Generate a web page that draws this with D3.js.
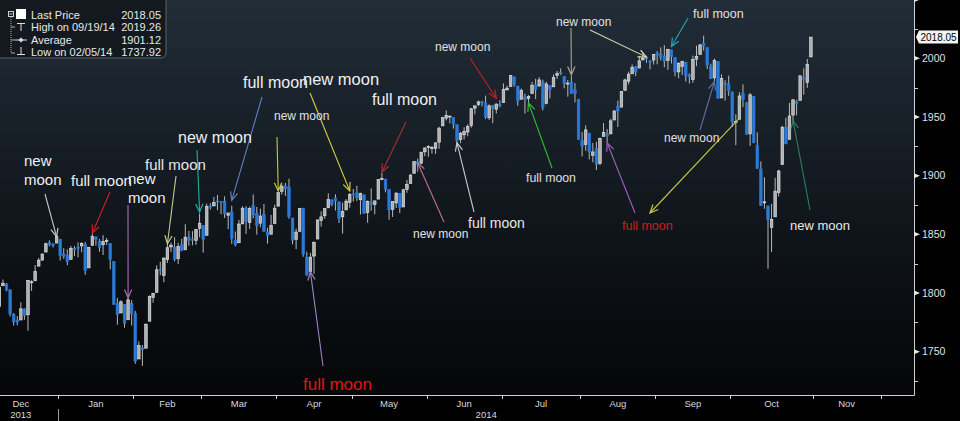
<!DOCTYPE html>
<html>
<head>
<meta charset="utf-8">
<script src="https://cdn.jsdelivr.net/npm/d3@7"></script>
<style>
body{margin:0;background:#000;}
svg{display:block;}
text{font-family:"Liberation Sans",Arial,sans-serif;}
</style>
</head>
<body>
<div id="chart"></div>
<script>
// trading days shown (Dec 2013 - Oct 2014)
var days = [
"2013-12-02","2013-12-03","2013-12-04","2013-12-05","2013-12-06","2013-12-09","2013-12-10","2013-12-11","2013-12-12","2013-12-13","2013-12-16","2013-12-17","2013-12-18","2013-12-19","2013-12-20","2013-12-23","2013-12-24","2013-12-26","2013-12-27","2013-12-30","2013-12-31",
"2014-01-02","2014-01-03","2014-01-06","2014-01-07","2014-01-08","2014-01-09","2014-01-10","2014-01-13","2014-01-14","2014-01-15","2014-01-16","2014-01-17","2014-01-21","2014-01-22","2014-01-23","2014-01-24","2014-01-27","2014-01-28","2014-01-29","2014-01-30","2014-01-31",
"2014-02-03","2014-02-04","2014-02-05","2014-02-06","2014-02-07","2014-02-10","2014-02-11","2014-02-12","2014-02-13","2014-02-14","2014-02-18","2014-02-19","2014-02-20","2014-02-21","2014-02-24","2014-02-25","2014-02-26","2014-02-27","2014-02-28",
"2014-03-03","2014-03-04","2014-03-05","2014-03-06","2014-03-07","2014-03-10","2014-03-11","2014-03-12","2014-03-13","2014-03-14","2014-03-17","2014-03-18","2014-03-19","2014-03-20","2014-03-21","2014-03-24","2014-03-25","2014-03-26","2014-03-27","2014-03-28","2014-03-31",
"2014-04-01","2014-04-02","2014-04-03","2014-04-04","2014-04-07","2014-04-08","2014-04-09","2014-04-10","2014-04-11","2014-04-14","2014-04-15","2014-04-16","2014-04-17","2014-04-21","2014-04-22","2014-04-23","2014-04-24","2014-04-25","2014-04-28","2014-04-29","2014-04-30",
"2014-05-01","2014-05-02","2014-05-05","2014-05-06","2014-05-07","2014-05-08","2014-05-09","2014-05-12","2014-05-13","2014-05-14","2014-05-15","2014-05-16","2014-05-19","2014-05-20","2014-05-21","2014-05-22","2014-05-23","2014-05-27","2014-05-28","2014-05-29","2014-05-30",
"2014-06-02","2014-06-03","2014-06-04","2014-06-05","2014-06-06","2014-06-09","2014-06-10","2014-06-11","2014-06-12","2014-06-13","2014-06-16","2014-06-17","2014-06-18","2014-06-19","2014-06-20","2014-06-23","2014-06-24","2014-06-25","2014-06-26","2014-06-27","2014-06-30",
"2014-07-01","2014-07-02","2014-07-03","2014-07-07","2014-07-08","2014-07-09","2014-07-10","2014-07-11","2014-07-14","2014-07-15","2014-07-16","2014-07-17","2014-07-18","2014-07-21","2014-07-22","2014-07-23","2014-07-24","2014-07-25","2014-07-28","2014-07-29","2014-07-30","2014-07-31",
"2014-08-01","2014-08-04","2014-08-05","2014-08-06","2014-08-07","2014-08-08","2014-08-11","2014-08-12","2014-08-13","2014-08-14","2014-08-15","2014-08-18","2014-08-19","2014-08-20","2014-08-21","2014-08-22","2014-08-25","2014-08-26","2014-08-27","2014-08-28","2014-08-29",
"2014-09-02","2014-09-03","2014-09-04","2014-09-05","2014-09-08","2014-09-09","2014-09-10","2014-09-11","2014-09-12","2014-09-15","2014-09-16","2014-09-17","2014-09-18","2014-09-19","2014-09-22","2014-09-23","2014-09-24","2014-09-25","2014-09-26","2014-09-29","2014-09-30",
"2014-10-01","2014-10-02","2014-10-03","2014-10-06","2014-10-07","2014-10-08","2014-10-09","2014-10-10","2014-10-13","2014-10-14","2014-10-15","2014-10-16","2014-10-17","2014-10-20","2014-10-21","2014-10-22","2014-10-23","2014-10-24","2014-10-27","2014-10-28","2014-10-29","2014-10-30","2014-10-31"
];

var opens = [
1806.6,1800.1,1794.2,1792.8,1788.4,1806.2,1807.6,1802.8,1781.7,1777.0,1777.0,1786.5,1781.5,1808.7,1810.4,1822.9,1828.0,1834.9,1842.9,1841.5,1842.6,
1845.9,1833.2,1832.3,1828.7,1837.9,1839.0,1840.1,1841.3,1821.4,1840.5,1847.9,1844.2,1841.1,1844.7,1842.3,1826.9,1791.0,1783.0,1790.2,1777.2,1790.9,
1782.7,1743.8,1753.4,1753.0,1776.0,1796.2,1800.5,1820.1,1814.8,1828.5,1839.3,1838.8,1829.2,1841.1,1836.8,1847.7,1845.8,1844.9,1855.1,
1857.7,1849.2,1874.1,1874.2,1878.5,1877.9,1878.3,1866.2,1869.1,1845.1,1842.8,1858.9,1872.3,1860.1,1874.5,1867.7,1859.5,1867.1,1852.1,1850.1,1859.2,
1874.0,1886.6,1891.4,1890.3,1863.9,1845.5,1852.6,1872.3,1830.7,1818.2,1831.5,1846.0,1861.7,1865.8,1872.6,1879.3,1881.0,1877.7,1865.0,1870.8,1877.1,
1884.4,1885.3,1879.5,1883.7,1868.5,1877.4,1875.3,1880.0,1896.8,1897.1,1888.2,1871.2,1876.7,1884.9,1873.3,1888.2,1893.3,1902.0,1911.8,1910.6,1920.3,
1923.9,1923.1,1923.1,1928.5,1942.4,1949.0,1950.3,1949.4,1943.4,1930.8,1934.8,1937.2,1942.7,1957.5,1960.5,1962.9,1962.0,1949.3,1959.9,1956.6,1960.8,
1962.3,1973.1,1975.9,1984.2,1976.4,1965.1,1966.7,1965.8,1969.9,1977.4,1976.4,1979.8,1961.5,1976.9,1975.7,1985.3,1988.1,1984.6,1978.3,1980.0,1973.2,1965.1,
1929.8,1926.6,1936.3,1917.3,1923.0,1910.4,1933.4,1935.7,1935.6,1947.4,1958.9,1958.4,1972.7,1980.5,1986.8,1992.6,1991.7,1998.6,2000.5,1997.4,1998.5,
2004.1,2003.6,2001.7,1998.0,2007.2,2000.7,1988.4,1992.9,1996.7,1986.0,1981.9,1999.3,2003.1,2012.7,2009.1,1992.8,1983.3,1997.3,1966.2,1979.0,1978.2,
1971.4,1945.8,1948.1,1970.0,1962.4,1935.6,1967.7,1925.6,1905.7,1877.1,1874.2,1856.0,1864.9,1885.6,1909.4,1941.3,1931.0,1951.6,1963.0,1964.1,1983.3,1979.5,2001.2
];

var highs = [
1810.0,1800.1,1799.8,1792.8,1806.0,1811.5,1808.5,1803.0,1782.9,1780.4,1792.2,1786.8,1811.1,1810.9,1823.8,1829.8,1833.3,1842.8,1844.9,1842.5,1849.4,
1846.0,1838.2,1837.2,1840.1,1840.0,1843.2,1843.2,1843.5,1839.3,1850.8,1847.9,1846.0,1849.3,1846.9,1842.3,1826.9,1795.9,1793.9,1790.2,1798.8,1793.9,
1784.8,1758.7,1755.8,1774.1,1798.0,1799.9,1823.5,1826.6,1830.3,1841.7,1842.9,1847.5,1842.8,1846.1,1858.7,1852.9,1852.7,1854.5,1867.9,
1857.7,1876.2,1876.5,1881.9,1883.6,1877.9,1882.4,1868.4,1874.4,1852.4,1862.3,1873.8,1874.1,1873.5,1884.0,1873.3,1871.9,1875.9,1855.6,1866.6,1875.2,
1885.8,1893.2,1893.8,1897.3,1864.0,1855.0,1872.4,1872.5,1835.1,1834.2,1844.0,1862.3,1869.6,1871.9,1884.9,1879.8,1884.1,1877.7,1877.0,1880.0,1885.2,
1888.6,1891.3,1885.5,1883.7,1878.8,1889.1,1878.6,1897.1,1902.2,1897.1,1888.2,1878.3,1886.0,1884.9,1888.8,1896.3,1901.3,1912.3,1914.5,1920.0,1924.0,
1925.9,1925.1,1928.6,1941.7,1949.4,1955.6,1950.9,1949.4,1943.4,1937.3,1941.2,1943.7,1957.7,1959.9,1963.9,1963.7,1968.2,1960.8,1959.9,1961.5,1964.2,
1978.6,1976.7,1985.6,1984.2,1976.4,1974.2,1969.8,1968.7,1979.9,1982.5,1983.9,1981.8,1979.9,1976.9,1986.2,1989.2,1991.4,1984.6,1981.5,1984.9,1978.9,1965.1,
1937.4,1942.9,1936.3,1927.9,1928.9,1932.4,1944.9,1939.7,1948.4,1955.2,1964.0,1972.0,1982.6,1988.6,1994.8,1993.5,2002.0,2005.0,2002.1,1998.5,2003.4,
2006.1,2009.3,2011.2,2007.7,2007.2,2001.0,1996.7,1997.7,1996.7,1987.2,2002.3,2010.7,2012.3,2019.3,2009.1,1995.4,1999.8,1997.3,1986.4,1981.3,1985.2,
1971.4,1952.3,1971.2,1977.8,1962.4,1970.4,1967.7,1936.9,1912.1,1898.7,1874.2,1876.0,1898.2,1905.0,1942.5,1949.3,1962.0,1965.3,1964.6,1985.1,1991.4,1999.4,2018.2
];

var lows = [
1798.6,1787.9,1779.1,1783.4,1788.4,1806.2,1801.4,1780.1,1772.3,1772.5,1777.0,1777.2,1767.9,1801.8,1810.4,1822.9,1828.0,1834.9,1839.8,1838.8,1842.4,
1827.7,1829.1,1823.7,1828.7,1831.4,1830.4,1834.7,1815.5,1821.4,1840.5,1840.3,1835.2,1832.4,1840.9,1820.1,1790.0,1772.9,1783.0,1770.5,1777.2,1772.3,
1739.7,1743.8,1737.9,1753.0,1776.0,1791.8,1800.5,1815.1,1809.2,1825.6,1835.0,1827.0,1824.6,1835.6,1836.8,1840.2,1840.7,1841.1,1847.5,
1834.4,1849.2,1871.1,1874.2,1870.6,1867.0,1863.9,1854.4,1841.9,1839.6,1842.8,1858.9,1850.4,1854.6,1863.5,1849.7,1856.0,1852.6,1842.1,1850.1,1859.2,
1874.0,1883.8,1882.7,1863.3,1841.5,1837.5,1852.4,1830.9,1814.4,1815.8,1816.3,1846.0,1856.7,1863.2,1872.6,1873.9,1870.2,1859.7,1850.6,1870.8,1872.7,
1878.0,1878.5,1866.8,1867.7,1859.8,1870.1,1867.0,1880.0,1896.1,1885.8,1862.4,1864.8,1872.4,1868.1,1873.3,1885.4,1893.3,1902.0,1907.3,1909.8,1916.6,
1916.0,1918.8,1918.6,1922.9,1942.4,1947.2,1944.6,1940.1,1925.8,1927.7,1930.9,1933.6,1940.9,1952.3,1959.2,1958.9,1948.3,1947.5,1944.7,1953.0,1958.2,
1962.3,1972.6,1975.9,1975.7,1959.5,1965.1,1952.9,1959.6,1969.9,1965.3,1975.7,1955.6,1960.8,1965.8,1975.7,1982.4,1985.8,1974.4,1967.3,1969.9,1962.4,1930.7,
1916.4,1921.2,1913.8,1911.4,1904.8,1909.0,1933.4,1928.3,1935.6,1947.4,1941.5,1958.4,1972.7,1977.7,1986.8,1984.8,1991.7,1998.6,1996.2,1990.5,1994.7,
1994.9,1998.2,1992.4,1990.1,1995.6,1984.6,1983.0,1985.9,1980.3,1978.5,1979.1,1993.3,2003.1,2006.6,1991.0,1982.4,1978.6,1966.0,1966.2,1964.0,1968.0,
1941.7,1926.0,1948.1,1958.4,1935.1,1925.3,1927.6,1906.1,1874.1,1871.8,1820.7,1835.0,1864.9,1882.3,1909.4,1927.1,1931.0,1946.3,1951.4,1964.1,1969.0,1974.8,2001.2
];

var closes = [
1800.9,1795.2,1792.8,1785.0,1805.1,1808.4,1802.6,1782.2,1775.5,1775.3,1786.5,1781.0,1810.7,1809.6,1818.3,1828.0,1833.3,1842.0,1841.4,1841.1,1848.4,
1832.0,1831.4,1826.8,1837.9,1837.5,1838.1,1842.4,1819.2,1838.9,1848.4,1845.9,1838.7,1843.8,1844.9,1828.5,1790.3,1781.6,1792.5,1774.2,1794.2,1782.6,
1741.9,1755.2,1751.6,1773.4,1797.0,1799.8,1819.8,1819.3,1829.8,1838.6,1840.8,1828.8,1839.8,1836.3,1847.6,1845.1,1845.2,1854.3,1859.5,
1845.7,1873.9,1873.8,1877.0,1878.0,1877.2,1867.6,1868.2,1846.3,1841.1,1858.8,1872.3,1860.8,1872.0,1866.5,1857.4,1865.6,1852.6,1849.0,1857.6,1872.3,
1885.5,1890.9,1888.8,1865.1,1845.0,1852.0,1872.2,1833.1,1815.7,1830.6,1843.0,1862.3,1864.9,1871.9,1879.6,1875.4,1878.6,1863.4,1869.4,1878.3,1884.0,
1883.7,1881.1,1884.7,1867.7,1878.2,1875.6,1878.5,1896.7,1897.5,1888.5,1870.9,1877.9,1885.1,1872.8,1888.0,1892.5,1900.5,1911.9,1909.8,1920.0,1923.6,
1925.0,1924.2,1927.9,1940.5,1949.4,1951.3,1950.8,1943.9,1930.1,1936.2,1937.8,1942.0,1957.0,1959.5,1962.9,1962.6,1950.0,1959.5,1957.2,1961.0,1960.2,
1973.3,1974.6,1985.4,1977.7,1963.7,1972.8,1964.7,1967.6,1977.1,1973.3,1981.6,1958.1,1978.2,1973.6,1983.5,1987.0,1988.0,1978.3,1978.9,1970.0,1970.1,1930.7,
1925.2,1939.0,1920.2,1920.2,1909.6,1931.6,1936.9,1933.8,1946.7,1955.2,1955.1,1971.7,1981.6,1986.5,1992.4,1988.4,1997.9,2000.0,2000.1,1996.7,2003.4,
2002.3,2000.7,1997.7,2007.7,2001.5,1988.4,1995.7,1997.5,1985.5,1984.1,1999.0,2001.6,2011.4,2010.4,1994.3,1982.8,1998.3,1966.0,1982.9,1977.8,1972.3,
1946.2,1946.2,1967.9,1964.8,1935.1,1968.9,1928.2,1906.1,1874.7,1877.7,1862.5,1862.8,1886.8,1904.0,1941.3,1927.1,1950.8,1964.6,1961.6,1985.1,1982.3,1994.7,2018.05
];

var legendRows = [
  ["Last Price", "2018.05"],
  ["High on 09/19/14", "2019.26"],
  ["Average", "1901.12"],
  ["Low on 02/05/14", "1737.92"]
];
var lastPrice = 2018.05;
var yMajor = [1750, 1800, 1850, 1900, 1950, 2000, 2050];
var yLabels = [1750, 1800, 1850, 1900, 1950, 2000];
var yMinor = [1725, 1775, 1825, 1875, 1925, 1975, 2025];
var marketHolidays = ["2014-11-27", "2014-12-25"];

// moon annotations: label text, the candle the arrow points to
var notes = [
  {text:["new","moon"], tip:["2013-12-31",1848], tail:[45,194], lx:24, ly:166, size:15, col:"#f0f0f0", arrow:"#c8c8c8"},
  {text:["full moon"], tip:["2014-01-15",1851], tail:[110,192], lx:71, ly:186, size:15, col:"#f0f0f0", arrow:"#d42020"},
  {text:["new","moon"], tip:["2014-01-30",1796], tail:[128,205], lx:128, ly:184, size:15, col:"#f0f0f0", arrow:"#a868b8"},
  {text:["full moon"], tip:["2014-02-14",1842], tail:[176,176], lx:145, ly:170, size:15, col:"#e8e8e8", arrow:"#c8c890"},
  {text:["new moon"], tip:["2014-02-28",1869], tail:[197,150], lx:178, ly:143, size:16, col:"#f0f0f0", arrow:"#22b0a0"},
  {text:["full moon"], tip:["2014-03-13",1879], tail:[262,97], lx:243, ly:88, size:16, col:"#f0f0f0", arrow:"#6080c0"},
  {text:["new moon"], tip:["2014-04-01",1887], tail:[277,137], lx:274, ly:120, size:12, col:"#e0e0e0", arrow:"#c8c840"},
  {text:["new moon"], tip:["2014-04-30",1887], tail:[310,93], lx:303, ly:85, size:16.5, col:"#f0f0f0", arrow:"#d8d040"},
  {text:["full moon"], tip:["2014-05-13",1903], tail:[406,122], lx:372, ly:105, size:16, col:"#f0f0f0", arrow:"#a83030"},
  {text:["full moon"], tip:["2014-04-14",1818], tail:[323,366], lx:303, ly:390, size:17, col:"#e01414", arrow:"#a080c8"},
  {text:["new moon"], tip:["2014-05-28",1911], tail:[444,222], lx:413, ly:238, size:12, col:"#e0e0e0", arrow:"#c07090"},
  {text:["full moon"], tip:["2014-06-12",1928], tail:[474,212], lx:468, ly:228, size:14, col:"#e8e8e8", arrow:"#c8c8c8"},
  {text:["new moon"], tip:["2014-06-27",1966], tail:[470,58], lx:435, ly:51, size:12, col:"#e0e0e0", arrow:"#c42020"},
  {text:["full moon"], tip:["2014-07-11",1962], tail:[552,168], lx:526, ly:182, size:12.3, col:"#e0e0e0", arrow:"#30c030"},
  {text:["new moon"], tip:["2014-07-29",1986], tail:[571,28], lx:556, ly:26, size:12, col:"#e0e0e0", arrow:"#a8a890"},
  {text:[], tip:["2014-08-27",2001], tail:[590,30], arrow:"#d8d8b0"},
  {text:["full moon"], tip:["2014-09-08",2010], tail:[688,18], lx:693, ly:18, size:12.5, col:"#e0e0e0", arrow:"#20a8b8"},
  {text:["new moon"], tip:["2014-09-24",1980], tail:[700,130], lx:664, ly:142, size:12, col:"#e0e0e0", arrow:"#6070a0"},
  {text:["full moon"], tip:["2014-08-12",1928], tail:[635,213], lx:622, ly:230, size:12.5, col:"#d81818", arrow:"#a060c0"},
  {text:["new moon"], tip:["2014-10-24",1947], tail:[810,210], lx:790, ly:230, size:13, col:"#e8e8e8", arrow:"#308060"}
];
// yellow arrow running from the October candles down to the red label
var octArrow = {from:["2014-10-03",1949], to:[650,213], arrow:"#c8c840"};

var W = 960, H = 421, plotR = 914, plotB = 395;
var svg = d3.select("#chart").append("svg").attr("width", W).attr("height", H);

var defs = svg.append("defs");
var grad = defs.append("linearGradient").attr("id", "bg").attr("x1", 0).attr("y1", 0).attr("x2", 0).attr("y2", 1);
grad.append("stop").attr("offset", "0%").attr("stop-color", "#222d38");
grad.append("stop").attr("offset", "55%").attr("stop-color", "#10161c");
grad.append("stop").attr("offset", "100%").attr("stop-color", "#050607");
defs.append("clipPath").attr("id", "plotclip").append("rect").attr("width", plotR).attr("height", plotB);

svg.append("rect").attr("width", W).attr("height", H).attr("fill", "#000");
svg.append("rect").attr("width", plotR).attr("height", plotB).attr("fill", "url(#bg)");

var parse = d3.timeParse("%Y-%m-%d");
var rows = days.map(function(d, i){
  return {i:i, date:parse(d), o:opens[i], h:highs[i], l:lows[i], c:closes[i]};
});
var idx = {};
days.forEach(function(d, i){ idx[d] = i; });

var x = d3.scaleLinear().domain([0, days.length - 1]).range([-14.9, 810.9]);
var y = d3.scaleLinear().domain([1750, 2000]).range([351.7, 58.3]);

// candles
var cg = svg.append("g").attr("clip-path", "url(#plotclip)");
cg.selectAll(".wick").data(rows).enter().append("line")
  .attr("class", "wick")
  .attr("x1", function(d){ return x(d.i); })
  .attr("x2", function(d){ return x(d.i); })
  .attr("y1", function(d){ return y(d.h); })
  .attr("y2", function(d){ return y(d.l); })
  .attr("stroke", "#b8b8b8")
  .attr("stroke-width", 1);
cg.selectAll(".body").data(rows).enter().append("rect")
  .attr("class", "body")
  .attr("x", function(d){ return x(d.i) - 1.3; })
  .attr("width", 2.6)
  .attr("y", function(d){ return y(Math.max(d.o, d.c)); })
  .attr("height", function(d){ return Math.max(1, Math.abs(y(d.o) - y(d.c))); })
  .attr("fill", function(d){ return d.c >= d.o ? "#b0b0b0" : "#2a7ad8"; })
  .attr("stroke", function(d){ return d.c >= d.o ? "#e8e8e8" : "#2a7ad8"; })
  .attr("stroke-width", 0.6);

// axes frame
var axisCol = "#cfcfcf";
svg.append("line").attr("x1", plotR + 0.5).attr("x2", plotR + 0.5).attr("y1", 0).attr("y2", plotB + 0.5)
  .attr("stroke", axisCol);
svg.append("line").attr("x1", 0).attr("x2", plotR + 0.5).attr("y1", plotB + 0.5).attr("y2", plotB + 0.5)
  .attr("stroke", axisCol);

// right axis
var ya = svg.append("g");
ya.selectAll(".minor").data(yMinor).enter().append("line")
  .attr("x1", plotR).attr("x2", plotR + 4)
  .attr("y1", function(d){ return Math.round(y(d)) + 0.5; })
  .attr("y2", function(d){ return Math.round(y(d)) + 0.5; })
  .attr("stroke", axisCol);
ya.selectAll(".major").data(yMajor).enter().append("path")
  .attr("d", function(d){ var v = y(d); return "M" + plotR + "," + (v - 2.5) + "L" + (plotR + 6) + "," + v + "L" + plotR + "," + (v + 2.5) + "Z"; })
  .attr("fill", "#e8e8e8");
ya.selectAll(".lab").data(yLabels).enter().append("text")
  .attr("x", plotR + 8)
  .attr("y", function(d){ return y(d) + 3.6; })
  .attr("fill", "#e0e0e0")
  .attr("font-size", 10.5)
  .text(function(d){ return d; });

// last price tag
var lp = y(lastPrice);
svg.append("path")
  .attr("d", "M" + (plotR + 2) + "," + lp + "L" + (plotR + 5) + "," + (lp - 6.5) + "L958," + (lp - 6.5) + "L958," + (lp + 6.5) + "L" + (plotR + 5) + "," + (lp + 6.5) + "Z")
  .attr("fill", "#f4f4f4");
svg.append("text").attr("x", plotR + 6.5).attr("y", lp + 3.6).attr("font-size", 10).attr("fill", "#000")
  .text(d3.format(".2f")(lastPrice));

// x axis: month boundaries from the trading days (plus November ahead)
var fmtKey = d3.timeFormat("%Y-%m");
var future = d3.timeDay.range(new Date(2014, 10, 1), new Date(2014, 11, 16)).filter(function(d){
  var w = d.getDay();
  return w !== 0 && w !== 6 && marketHolidays.indexOf(d3.timeFormat("%Y-%m-%d")(d)) < 0;
});
var allDates = rows.map(function(r){ return r.date; }).concat(future);
var months = [];
allDates.forEach(function(d, i){
  var k = fmtKey(d);
  if (!months.length || months[months.length - 1].key !== k) {
    months.push({key:k, date:d, start:i - 0.5});
  }
});
months.forEach(function(m, j){
  m.end = j < months.length - 1 ? months[j + 1].start : allDates.length + 10;
});
var xa = svg.append("g");
xa.selectAll(".mtick").data(months.slice(1)).enter().append("line")
  .attr("x1", function(m){ return Math.round(x(m.start)) + 0.5; })
  .attr("x2", function(m){ return Math.round(x(m.start)) + 0.5; })
  .attr("y1", plotB).attr("y2", plotB + 4)
  .attr("stroke", axisCol);
xa.selectAll(".mlab").data(months.filter(function(m){ return x(m.end) <= plotR; }))
  .enter().append("text")
  .attr("x", function(m){ return (x(m.start) + x(m.end)) / 2; })
  .attr("y", plotB + 12)
  .attr("text-anchor", "middle")
  .attr("fill", "#d8d8d8")
  .attr("font-size", 9.5)
  .text(function(m){ return d3.timeFormat("%b")(m.date); });

// year row
var yearStart = months[1].start;
var years = [
  {label:"2013", cx:(x(months[0].start) + x(months[0].end)) / 2},
  {label:"2014", cx:(x(yearStart) + plotR) / 2}
];
xa.append("line")
  .attr("x1", Math.round(x(yearStart)) + 0.5).attr("x2", Math.round(x(yearStart)) + 0.5)
  .attr("y1", plotB + 14).attr("y2", H)
  .attr("stroke", "#9a9a9a");
xa.selectAll(".ylab").data(years).enter().append("text")
  .attr("x", function(d){ return d.cx; })
  .attr("y", plotB + 23)
  .attr("text-anchor", "middle")
  .attr("fill", "#d8d8d8")
  .attr("font-size", 9.5)
  .text(function(d){ return d.label; });

// moon arrows and labels
function arrowHead(g, x1, y1, x2, y2, col) {
  var a = Math.atan2(y2 - y1, x2 - x1), len = 9, sp = 0.42;
  g.append("path")
    .attr("d", "M" + (x2 - len * Math.cos(a - sp)) + "," + (y2 - len * Math.sin(a - sp)) +
      "L" + x2 + "," + y2 + "L" + (x2 - len * Math.cos(a + sp)) + "," + (y2 - len * Math.sin(a + sp)))
    .attr("fill", "none").attr("stroke", col).attr("stroke-width", 1.2);
}
var ng = svg.append("g");
notes.forEach(function(n){
  var tx = x(idx[n.tip[0]]), ty = y(n.tip[1]);
  ng.append("line").attr("x1", n.tail[0]).attr("y1", n.tail[1]).attr("x2", tx).attr("y2", ty)
    .attr("stroke", n.arrow).attr("stroke-width", 1.1);
  arrowHead(ng, n.tail[0], n.tail[1], tx, ty, n.arrow);
});
(function(){
  var fx = x(idx[octArrow.from[0]]), fy = y(octArrow.from[1]);
  ng.append("line").attr("x1", fx).attr("y1", fy).attr("x2", octArrow.to[0]).attr("y2", octArrow.to[1])
    .attr("stroke", octArrow.arrow).attr("stroke-width", 1.1);
  arrowHead(ng, fx, fy, octArrow.to[0], octArrow.to[1], octArrow.arrow);
})();
notes.forEach(function(n){
  n.text.forEach(function(t, k){
    ng.append("text")
      .attr("x", n.lx)
      .attr("y", n.ly + k * n.size * 1.25)
      .attr("font-size", n.size)
      .attr("fill", n.col)
      .text(t);
  });
});

// legend box
var lg = svg.append("g");
lg.append("rect").attr("x", -6).attr("y", -6).attr("width", 172).attr("height", 64).attr("rx", 5)
  .attr("fill", "#13191f").attr("stroke", "#59626b");
lg.append("rect").attr("x", 8.5).attr("y", 11.5).attr("width", 5).attr("height", 5)
  .attr("fill", "none").attr("stroke", "#cfcfcf");
lg.append("line").attr("x1", 9.5).attr("x2", 12.5).attr("y1", 14).attr("y2", 14).attr("stroke", "#cfcfcf");
lg.append("rect").attr("x", 16).attr("y", 9).attr("width", 10).attr("height", 10).attr("fill", "#ffffff");
lg.append("line").attr("x1", 11).attr("x2", 11).attr("y1", 17).attr("y2", 53)
  .attr("stroke", "#aaaaaa").attr("stroke-dasharray", "1,1");
[27, 40, 53].forEach(function(ry){
  lg.append("line").attr("x1", 11).attr("x2", 15).attr("y1", ry).attr("y2", ry).attr("stroke", "#aaaaaa");
});
// high icon
lg.append("path").attr("d", "M17,23.5H25M21,23.5V31").attr("stroke", "#e0e0e0").attr("fill", "none");
// average icon
lg.append("path").attr("d", "M15,40H27").attr("stroke", "#e0e0e0");
lg.append("path").attr("d", "M21,37.5L23.5,40L21,42.5L18.5,40Z").attr("fill", "#e0e0e0");
// low icon
lg.append("path").attr("d", "M21,47V54.5M17,54.5H25").attr("stroke", "#e0e0e0").attr("fill", "none");
lg.selectAll(".ln").data(legendRows).enter().append("text")
  .attr("x", 31).attr("y", function(d, i){ return 18.5 + i * 12.6; })
  .attr("font-size", 11).attr("fill", "#e8e8e8")
  .text(function(d){ return d[0]; });
lg.selectAll(".lv").data(legendRows).enter().append("text")
  .attr("x", 161).attr("y", function(d, i){ return 18.5 + i * 12.6; })
  .attr("text-anchor", "end")
  .attr("font-size", 11).attr("fill", "#e8e8e8")
  .text(function(d){ return d[1]; });
</script>
</body>
</html>
